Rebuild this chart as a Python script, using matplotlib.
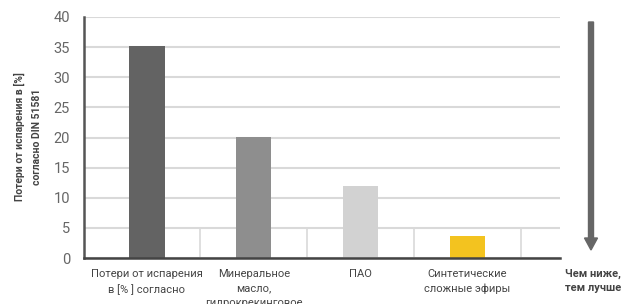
import matplotlib.pyplot as plt
from matplotlib import font_manager

names = {f.name for f in font_manager.fontManager.ttflist}
base = 'Liberation Sans Narrow' if 'Liberation Sans Narrow' in names else 'Roboto'
plt.rcParams['font.family'] = [base, 'DejaVu Sans']

categories = ['Потери от испарения\nв [% ] согласно',
              'Минеральное\nмасло,\nгидрокрекинговое',
              'ПАО',
              'Синтетические\nсложные эфиры']
values = [35.2, 20.1, 11.9, 3.7]
colors = ['#636363', '#8e8e8e', '#d2d2d2', '#f3c31f']
yticks = [0, 5, 10, 15, 20, 25, 30, 35, 40]

fig = plt.figure(figsize=(6.33, 3.04), dpi=100)
ax = fig.add_axes([84/633, 1 - 258/304, (560-84)/633, (258-17)/304])

x = list(range(len(categories)))
ax.bar(x, values, width=0.33, color=colors, zorder=3)

# light separators between categories near the base
for i in range(len(categories)):
    ax.plot([i + 0.5, i + 0.5], [0, 5], color='#d9d9d9', lw=1.2, zorder=1)

ax.set_xlim(-0.59, 3.87)
ax.set_ylim(0, 40)
ax.set_yticks(yticks)
ax.yaxis.grid(True, color='#d9d9d9', lw=1.5, zorder=0)
ax.tick_params(axis='y', length=0, labelsize=10.5, labelcolor='#666666', pad=10)
ax.set_xticks(x)
ax.set_xticklabels(categories, fontsize=8, color='#444444', linespacing=1.55)
ax.tick_params(axis='x', length=0, pad=8)

for s in ['top', 'right']:
    ax.spines[s].set_visible(False)
ax.spines['left'].set_color('#555555')
ax.spines['left'].set_linewidth(1.8)
ax.spines['bottom'].set_color('#444444')
ax.spines['bottom'].set_linewidth(1.8)
ax.spines['left'].set_zorder(4)
ax.spines['bottom'].set_zorder(4)

fig.text(28/633, 1 - 137/304, 'Потери от испарения в [%]\nсогласно DIN 51581',
         rotation=90, ha='center', va='center', fontsize=7.5,
         fontweight='bold', color='#444444', linespacing=1.8)

fig.patches.append(plt.matplotlib.patches.FancyArrow(
    591/633, 1 - 22/304, 0, -(250-22)/304, width=5/633, head_width=13/633,
    head_length=12/304, length_includes_head=True, color='#666666',
    transform=fig.transFigure, figure=fig))

fig.text(593/633, 1 - 281/304, 'Чем ниже,\nтем лучше', ha='center', va='center',
         fontsize=8, fontweight='bold', color='#444444', linespacing=1.55)

fig.savefig('out.png', dpi=100)
